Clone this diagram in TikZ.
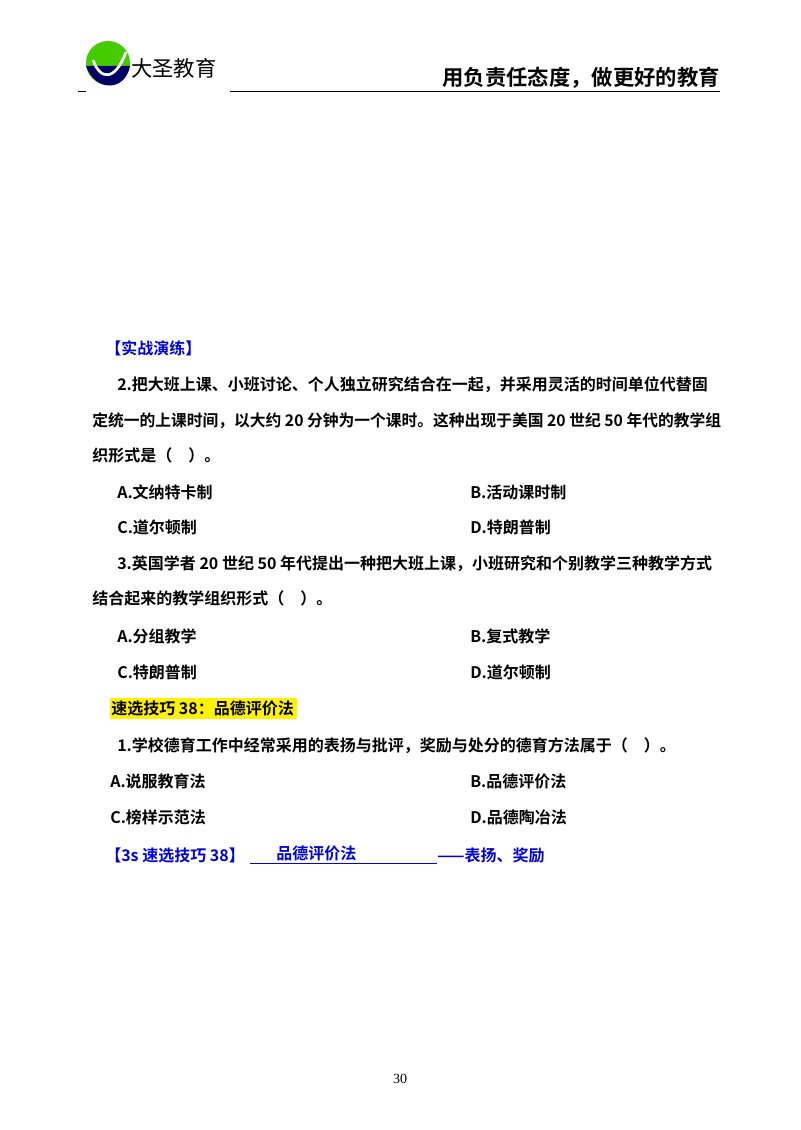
\documentclass[tikz,border=0pt]{standalone}
\usepackage{fontspec}
\usepackage{graphicx}
\setmainfont{Liberation Serif}
\newfontfamily\cjk{Noto Sans CJK SC}[BoldFont={* Bold}]
\newfontfamily\cjkb{Noto Sans CJK SC Bold}
\begin{document}
\begin{tikzpicture}[x=0.75pt,y=-0.75pt,
  t/.style={anchor=base west,inner sep=0pt,font=\cjk\bfseries\fontsize{12}{14}\selectfont},
  bl/.style={t,text=blue!85!black}]
\useasboundingbox (0,0) rectangle (800,1130);
\fill[white] (0,0) rectangle (800,1130);
% header
\fill[green!55!lime!80!black] (108,63) circle (22);
\fill[blue!40!black] (86,66) .. controls (95,92) and (125,92) .. (130,66) -- cycle;
\draw[white,line width=2pt] (93,60) .. controls (100,80) and (115,82) .. (126,52);
\node[anchor=base west,inner sep=0pt,font=\cjk\fontsize{16}{18}\selectfont] (logo) at (131,77) {大圣教育};
\draw[line width=0.6pt] (78,91) -- (86,91) (230,91) -- (720,91);
\node[anchor=base east,inner sep=0pt,font=\cjkb\fontsize{16}{18}\selectfont] (slogan) at (720,86) {用负责任态度，做更好的教育};
% body
\node[bl] (h1) at (105,354) {【实战演练】};
\node[t] (q2b) at (117,390) {2.把大班上课、小班讨论、个人独立研究结合在一起，并采用灵活的时间单位代替固};
\node[t] (q2c) at (92,426) {\scalebox{0.985}[1]{定统一的上课时间，以大约 20 分钟为一个课时。这种出现于美国 20 世纪 50 年代的教学组}};
\node[t] (q2d) at (92,461) {织形式是（\quad ）。};
\node[t] (a1) at (117,498) {A.文纳特卡制};
\node[t] (b1) at (470,498) {B.活动课时制};
\node[t] (c1) at (117,533) {C.道尔顿制};
\node[t] (d1) at (470,533) {D.特朗普制};
\node[t] (q3a) at (117,569) {3.英国学者 20 世纪 50 年代提出一种把大班上课，小班研究和个别教学三种教学方式};
\node[t] (q3b) at (92,604) {结合起来的教学组织形式（\quad ）。};
\node[t] (a2) at (117,642) {A.分组教学};
\node[t] (b2) at (470,642) {B.复式教学};
\node[t] (c2) at (117,678) {C.特朗普制};
\node[t] (d2) at (470,678) {D.道尔顿制};
\fill[yellow] (110,698) rectangle (297,719);
\node[t] (s38) at (111,714) {速选技巧 38：品德评价法};
\node[t] (q1) at (117,751) {1.学校德育工作中经常采用的表扬与批评，奖励与处分的德育方法属于（\quad ）。};
\node[t] (a3) at (110,787) {A.说服教育法};
\node[t] (b3) at (470,787) {B.品德评价法};
\node[t] (c3) at (110,823) {C.榜样示范法};
\node[t] (d3) at (470,823) {D.品德陶冶法};
\node[bl] (k1) at (105,861) {【3s 速选技巧 38】};
\node[bl] (k2) at (276,859) {品德评价法};
\draw[blue,line width=0.6pt] (250,863) -- (437,863);
\node[bl] (k3) at (437,861) {——表扬、奖励};
\node[anchor=base,inner sep=0pt,font=\fontsize{10.5}{12}\selectfont] (pg) at (400,1083) {30};
\end{tikzpicture}
\end{document}
